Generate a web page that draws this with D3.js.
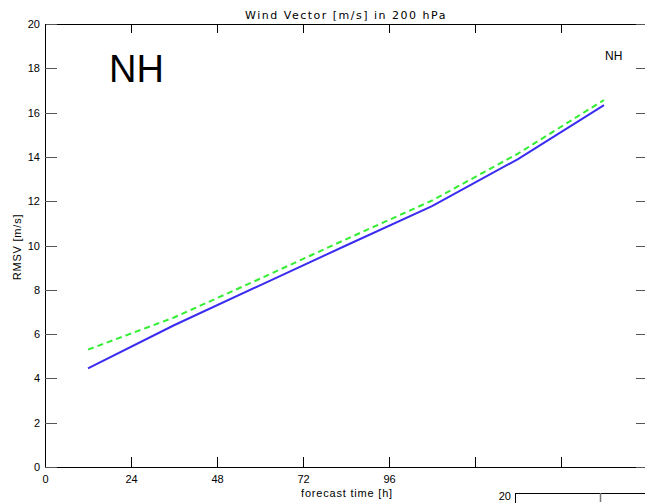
<!DOCTYPE html>
<html>
<head>
<meta charset="utf-8">
<script src="https://cdn.jsdelivr.net/npm/d3@7"></script>
<style>
  body { margin: 0; background: #fff; }
  svg { display: block; }
  text { font-family: "Liberation Sans", Arial, sans-serif; fill: #000; }
</style>
</head>
<body>
<svg width="645" height="503"></svg>
<script>
// forecast hours and RMSV values
const hours = [12, 36, 60, 84, 108, 132, 156];
const rmsvBlue = [4.45, 6.4, 8.2, 10.0, 11.78, 13.9, 16.34];
const rmsvGreen = [5.3, 6.75, 8.5, 10.28, 12.03, 14.15, 16.57];
const xTicks = [0, 24, 48, 72, 96, 120, 144];
const xTickLabels = ["0", "24", "48", "72", "96", "", ""];
const yTicks = [0, 2, 4, 6, 8, 10, 12, 14, 16, 18, 20];

const svg = d3.select("svg");

const plotL = 45, plotR = 647, plotT = 24, plotB = 467;

const x = d3.scaleLinear().domain([0, 168]).range([plotL, plotR]);
const y = d3.scaleLinear().domain([0, 20]).range([plotB, plotT]);

// frame
svg.append("rect")
  .attr("x", plotL).attr("y", plotT)
  .attr("width", plotR - plotL).attr("height", plotB - plotT)
  .attr("fill", "none").attr("stroke", "#000").attr("stroke-width", 1)
  .attr("shape-rendering", "crispEdges");

// left axis, ticks pointing inward
const yAxis = svg.append("g")
  .attr("transform", `translate(${plotL},0)`)
  .call(d3.axisLeft(y).tickValues(yTicks).tickSizeInner(-12).tickSizeOuter(0).tickPadding(5));
yAxis.select(".domain").remove();
yAxis.selectAll("line").attr("stroke", "#555").attr("shape-rendering", "crispEdges");
yAxis.selectAll("text").style("font-size", "11px").attr("fill", "#000");

// right axis ticks
const yAxisR = svg.append("g")
  .attr("transform", `translate(${plotR},0)`)
  .call(d3.axisRight(y).tickValues(yTicks).tickSizeInner(-11).tickSizeOuter(0).tickFormat(""));
yAxisR.select(".domain").remove();
yAxisR.selectAll("line").attr("stroke", "#555").attr("shape-rendering", "crispEdges");

// bottom axis
const xAxis = svg.append("g")
  .attr("transform", `translate(0,${plotB})`)
  .call(d3.axisBottom(x).tickValues(xTicks).tickSizeInner(-10).tickSizeOuter(0).tickPadding(8)
    .tickFormat((d, i) => xTickLabels[i]));
xAxis.select(".domain").remove();
xAxis.selectAll("line").attr("stroke", "#000").attr("shape-rendering", "crispEdges");
xAxis.selectAll("text").style("font-size", "11px").attr("fill", "#000");

// top axis ticks
const xAxisT = svg.append("g")
  .attr("transform", `translate(0,${plotT})`)
  .call(d3.axisTop(x).tickValues(xTicks).tickSizeInner(-9).tickSizeOuter(0).tickFormat(""));
xAxisT.select(".domain").remove();
xAxisT.selectAll("line").attr("stroke", "#000").attr("shape-rendering", "crispEdges");

// lines
const line = d3.line().x(d => x(d[0])).y(d => y(d[1]));

svg.append("path")
  .datum(hours.map((h, i) => [h, rmsvGreen[i]]))
  .attr("d", line)
  .attr("fill", "none")
  .attr("stroke", "#33ee33")
  .attr("stroke-width", 2)
  .attr("stroke-dasharray", "6,4");

svg.append("path")
  .datum(hours.map((h, i) => [h, rmsvBlue[i]]))
  .attr("d", line)
  .attr("fill", "none")
  .attr("stroke", "#3a2cf0")
  .attr("stroke-width", 2);

// titles
svg.append("text")
  .attr("x", 346).attr("y", 19)
  .attr("text-anchor", "middle")
  .style("font-family", "DejaVu Sans")
  .style("font-size", "11px")
  .style("letter-spacing", "1.5px")
  .text("Wind Vector [m/s] in 200 hPa");

svg.append("text")
  .attr("x", 347).attr("y", 497)
  .attr("text-anchor", "middle")
  .style("font-size", "11px")
  .style("letter-spacing", "0.8px")
  .text("forecast time [h]");

svg.append("text")
  .attr("transform", "translate(21,247) rotate(-90)")
  .attr("text-anchor", "middle")
  .style("font-size", "11px")
  .style("letter-spacing", "0.8px")
  .text("RMSV [m/s]");

svg.append("text")
  .attr("x", 109).attr("y", 82)
  .style("font-size", "38px")
  .text("NH");

svg.append("text")
  .attr("x", 605).attr("y", 60)
  .style("font-size", "12px")
  .text("NH");

// start of the next panel below
const next = svg.append("g");
next.append("path")
  .attr("d", "M515.5,503V493.5H645")
  .attr("fill", "none").attr("stroke", "#000")
  .attr("shape-rendering", "crispEdges");
next.append("line")
  .attr("x1", 600.5).attr("x2", 600.5).attr("y1", 493).attr("y2", 502)
  .attr("stroke", "#777").attr("stroke-width", 1.5);
next.append("text")
  .attr("x", 511).attr("y", 500)
  .attr("text-anchor", "end")
  .style("font-size", "11px")
  .text("20");
</script>
</body>
</html>
